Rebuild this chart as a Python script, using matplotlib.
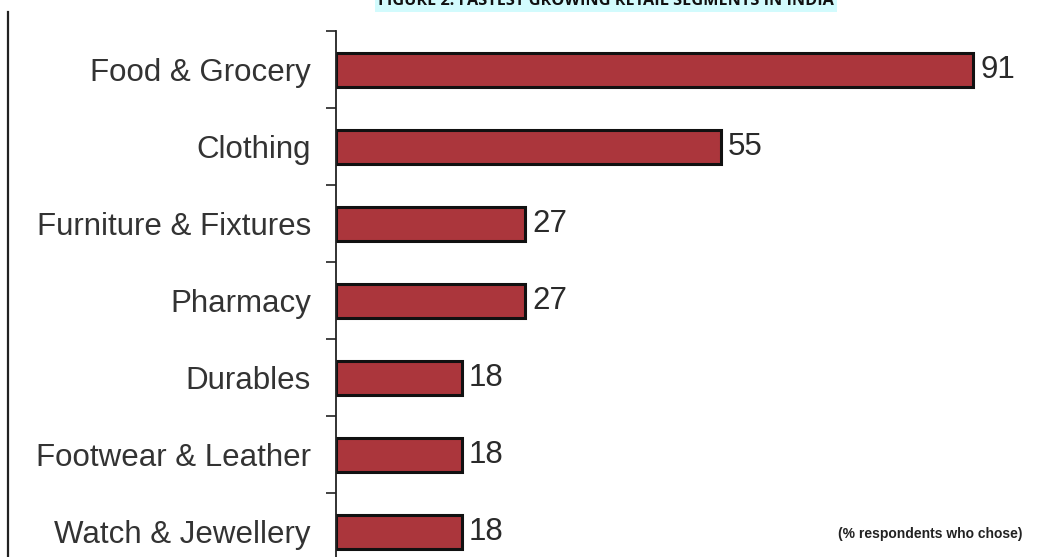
import matplotlib.pyplot as plt
from matplotlib.lines import Line2D

segments = ["Food & Grocery", "Clothing", "Furniture & Fixtures", "Pharmacy",
            "Durables", "Footwear & Leather", "Watch & Jewellery"]
share = [91, 55, 27, 27, 18, 18, 18]

W, H = 1048, 557
fig = plt.figure(figsize=(W / 100, H / 100), dpi=100)
fig.patch.set_facecolor("white")

# axes: y axis line at x=336px, first boundary at y=31.5px from the top
left_px, top_px = 336, 31.5
ax = fig.add_axes([left_px / W, 0, 1 - left_px / W, (H - top_px) / H])

pos = list(range(len(segments)))
ax.barh(pos, share, height=0.44, color="#ab363c", edgecolor="#111111",
        linewidth=2.2)

for y, v in zip(pos, share):
    ax.text(v + 1.0, y, str(v), va="center", ha="left", fontsize=22.5,
            color="#2a2a2a", family="Liberation Sans")

ax.set_xlim(0, (W - left_px) / 7.0)
ax.set_ylim((H - 70) / 77, -0.5)

ax.set_yticks(pos)
ax.set_yticklabels(segments, fontsize=22.5, color="#333333",
                   family="Liberation Sans")
ax.tick_params(axis="y", which="major", length=0, pad=18)
ax.set_yticks([p - 0.5 for p in pos], minor=True)
ax.tick_params(axis="y", which="minor", length=7, width=1.2, direction="out",
               color="#222222")
ax.set_xticks([])
for side in ["top", "right", "bottom"]:
    ax.spines[side].set_visible(False)
ax.spines["left"].set_linewidth(1.3)
ax.spines["left"].set_color("#222222")

ax.text((1022 - left_px) / (W - left_px), 6.03,
        "(% respondents who chose)",
        transform=ax.get_yaxis_transform(), ha="right", va="center",
        fontsize=10, fontweight="bold", color="#222222",
        family="Liberation Sans")

# page border line on the far left
fig.add_artist(Line2D([8 / W, 8 / W], [0, (H - 12) / H], color="#222222",
                      linewidth=1.6))

# figure caption, cut at the top edge
fig.text(606 / W, (H - 1) / H,
         "FIGURE 2: FASTEST GROWING RETAIL SEGMENTS IN INDIA",
         ha="center", va="center", fontsize=11.7, fontweight="bold",
         color="#111111", family="Open Sans",
         bbox=dict(boxstyle="square,pad=0.2", facecolor="#d2fbfd",
                   edgecolor="none"))

fig.savefig("out.png", dpi=100)
